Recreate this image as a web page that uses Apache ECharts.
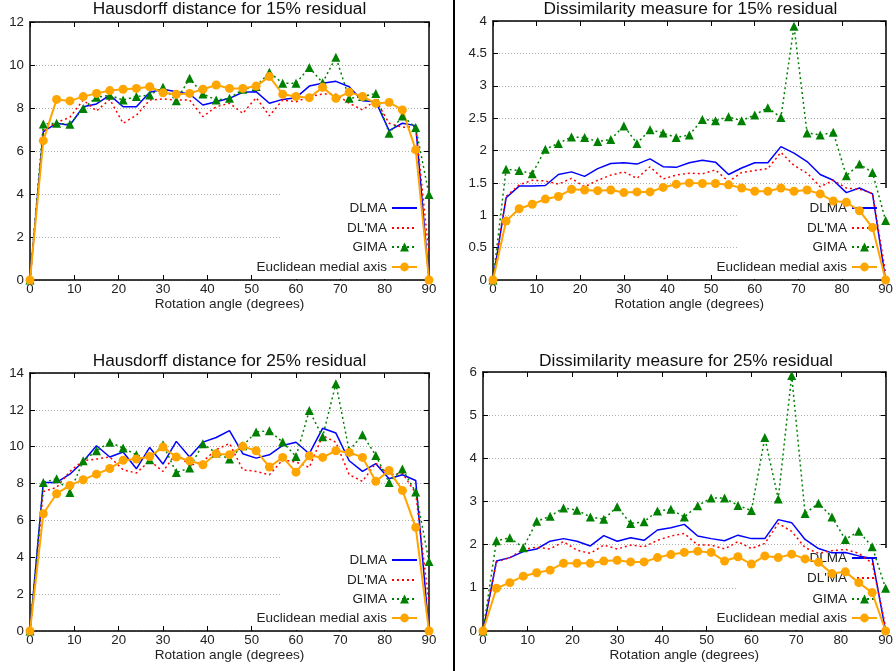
<!DOCTYPE html>
<html>
<head>
<meta charset="utf-8">
<script src="https://cdn.jsdelivr.net/npm/echarts@6/dist/echarts.min.js"></script>
<style>html,body{margin:0;padding:0;background:#fff}#c{width:896px;height:671px}</style>
</head>
<body>
<div id="c"></div>
<script>
// ---------- data ----------
const angles = [0,3,6,9,12,15,18,21,24,27,30,33,36,39,42,45,48,51,54,57,60,63,66,69,72,75,78,81,84,87,90];
const seriesNames = ["DLMA", "DL'MA", "GIMA", "Euclidean medial axis"];
const titles = ["Hausdorff distance for 15% residual", "Dissimilarity measure for 15% residual",
                "Hausdorff distance for 25% residual", "Dissimilarity measure for 25% residual"];
const xAxisName = "Rotation angle (degrees)";
const xTickLabels = ["0","10","20","30","40","50","60","70","80","90"];
const yTickLabels1 = ["0","2","4","6","8","10","12"];
const yTickLabels2 = ["0","0.5","1","1.5","2","2.5","3","4.5","4"];
const yTickLabels3 = ["0","2","4","6","8","10","12","14"];
const yTickLabels4 = ["0","1","2","3","4","5","6"];

// Hausdorff distance, 15%
const dlma15H  = [0,6.9,7.29,7.2,8.06,8.19,8.6,8.06,8.06,8.73,8.87,8.76,8.65,8.14,8.29,8.45,8.73,8.76,8.22,8.40,8.48,9.02,9.15,9.24,8.99,8.34,8.29,6.95,7.29,7.18,0];
const dlpma15H = [0,6.98,7.32,7.57,8.37,7.86,8.40,7.29,7.67,8.37,8.42,8.37,8.37,7.6,8.06,8.22,7.75,8.48,7.64,8.37,8.29,8.53,8.65,8.64,8.22,7.91,8.37,7.29,7.1,7.13,1.2];
const gima15H  = [0,7.26,7.29,7.24,7.98,8.5,8.59,8.37,8.53,8.6,8.96,8.34,9.38,8.65,8.37,8.45,8.87,9.0,9.66,9.15,9.15,9.88,9.18,10.36,8.45,8.53,8.68,6.82,7.63,7.09,3.98];
const eucl15H  = [0,6.48,8.40,8.33,8.53,8.68,8.81,8.87,8.91,8.99,8.71,8.64,8.68,8.87,9.07,8.91,8.91,9.02,9.46,8.64,8.54,8.48,8.96,8.45,8.73,8.54,8.22,8.26,7.91,6.05,0];

// Dissimilarity, 15%
const dlma15D  = [0,1.27,1.45,1.45,1.46,1.63,1.67,1.60,1.72,1.80,1.81,1.79,1.87,1.75,1.74,1.81,1.85,1.82,1.63,1.73,1.81,1.81,2.06,1.96,1.83,1.63,1.54,1.35,1.42,1.33,0];
const dlpma15D = [0,1.29,1.47,1.54,1.53,1.48,1.57,1.44,1.54,1.62,1.67,1.57,1.75,1.56,1.62,1.65,1.64,1.70,1.52,1.66,1.69,1.72,1.97,1.77,1.65,1.44,1.54,1.42,1.40,1.34,0.1];
const gima15D  = [0,1.71,1.69,1.64,2.02,2.11,2.21,2.20,2.14,2.17,2.38,2.11,2.32,2.27,2.20,2.24,2.48,2.46,2.52,2.46,2.55,2.66,2.51,3.92,2.27,2.24,2.28,1.61,1.79,1.66,0.92];
const eucl15D  = [0,0.91,1.10,1.17,1.25,1.29,1.40,1.39,1.38,1.39,1.35,1.36,1.36,1.43,1.48,1.50,1.49,1.49,1.47,1.42,1.37,1.37,1.42,1.37,1.39,1.33,1.22,1.20,1.07,0.81,0];

// Hausdorff distance, 25%
const dlma25H  = [0,8.06,8.06,8.51,9.2,10.05,9.44,9.71,8.80,9.96,9.06,10.29,9.44,10.25,10.5,10.87,9.62,9.38,9.56,10.07,10.24,9.62,11.0,10.74,9.24,8.66,9.08,8.26,8.48,8.17,0];
const dlpma25H = [0,7.57,7.79,8.66,9.24,9.33,9.44,8.75,8.57,9.24,8.66,9.66,8.97,9.2,9.84,10.18,8.75,8.66,8.48,9.29,9.17,8.88,10.6,10.24,8.48,8.12,9.11,8.48,8.57,7.48,1.5];
const gima25H  = [0,8.06,8.26,7.52,9.24,9.78,10.24,9.93,9.56,9.29,10.11,8.6,8.84,10.16,9.66,9.33,10.05,10.8,10.87,10.25,9.47,11.96,10.54,13.42,9.78,10.65,9.53,8.06,8.79,7.54,3.77];
const eucl25H  = [0,6.36,7.45,7.9,8.21,8.51,8.82,9.26,9.33,9.47,9.98,9.44,9.24,9.02,9.62,9.57,10.02,9.78,8.9,9.42,8.62,9.51,9.42,9.78,9.69,9.42,8.12,8.71,7.63,5.62,0];

// Dissimilarity, 25%
const dlma25D  = [0,1.62,1.70,1.84,1.90,2.08,2.14,2.08,1.97,2.21,2.08,2.16,2.10,2.34,2.39,2.47,2.20,2.14,2.09,2.22,2.14,2.14,2.58,2.51,2.12,1.91,1.81,1.82,1.74,1.68,0];
const dlpma25D = [0,1.60,1.70,1.89,1.94,1.90,2.07,1.87,1.80,1.99,1.90,1.99,1.95,2.10,2.20,2.26,1.99,1.99,1.90,2.07,1.91,2.03,2.49,2.31,1.93,1.80,1.86,1.89,1.80,1.57,0.1];
const gima25D  = [0,2.09,2.16,1.93,2.54,2.66,2.85,2.80,2.64,2.59,2.88,2.49,2.53,2.78,2.82,2.64,2.9,3.08,3.08,2.91,2.79,4.48,3.06,5.92,2.72,2.96,2.64,2.12,2.31,1.95,0.99];
const eucl25D  = [0,0.99,1.12,1.27,1.35,1.41,1.57,1.57,1.57,1.62,1.64,1.60,1.60,1.70,1.77,1.82,1.85,1.82,1.62,1.72,1.55,1.74,1.70,1.78,1.67,1.59,1.33,1.37,1.12,0.89,0];

// ---------- layout / style ----------
const FONT = 'Liberation Sans, Arial, sans-serif';
const panels = [
  {grid:{left:30, top:22, width:399, height:258}, y:[0,12,2], yLabels:yTickLabels1, data:[dlma15H,dlpma15H,gima15H,eucl15H],
   box:[280,188,148,91], legendRight:478, legendTops:[201,221,240,260], titleTop:1},
  {grid:{left:493, top:21, width:395, height:259}, y:[0,4,0.5], yLabels:yTickLabels2, data:[dlma15D,dlpma15D,gima15D,eucl15D],
   box:[738,188,149,91], legendRight:18, legendTops:[201,221,240,260], titleTop:1},
  {grid:{left:30, top:373, width:399, height:258}, y:[0,14,2], yLabels:yTickLabels3, data:[dlma25H,dlpma25H,gima25H,eucl25H],
   box:[280,540,148,90], legendRight:478, legendTops:[553,573,592,611], titleTop:352.5},
  {grid:{left:483, top:372, width:406, height:259}, y:[0,6,1], yLabels:yTickLabels4, data:[dlma25D,dlpma25D,gima25D,eucl25D],
   box:[738,548,150,82], legendRight:18, legendTops:[551,571,592,611], titleTop:352.5}
];
const styles = [
  {color:'#0000ff', lineStyle:{width:1.5, type:'solid'}, symbol:'none', symbolSize:0},
  {color:'#ff0000', lineStyle:{width:1.5, type:[2,3]}, symbol:'none', symbolSize:0},
  {color:'#008000', lineStyle:{width:1.5, type:[2,3]}, symbol:'triangle', symbolSize:9},
  {color:'#ffa500', lineStyle:{width:2, type:'solid'}, symbol:'circle', symbolSize:9}
];

const option = {backgroundColor:'#fff', animation:false, title:[], grid:[], xAxis:[], yAxis:[], series:[], legend:[], graphic:{elements:[]}};
const axisLine = {show:true, onZero:false, lineStyle:{color:'#000', width:1.5}};
const tick = {show:true, inside:true, length:5, lineStyle:{color:'#000', width:1}};

panels.forEach((p, i) => {
  option.grid.push(Object.assign({containLabel:false}, p.grid));
  option.title.push({text:titles[i], left:p.grid.left + p.grid.width/2, textAlign:'center', top:p.titleTop, padding:0,
    textStyle:{fontFamily:FONT, fontSize:17.3, fontWeight:'normal', color:'#111'}});
  // bottom x
  option.xAxis.push({type:'value', gridIndex:i, min:0, max:90, interval:10, position:'bottom',
    name:xAxisName, nameLocation:'middle', nameGap:14, nameTextStyle:{fontFamily:FONT, fontSize:13.6, color:'#222'},
    axisLine, axisTick:tick, splitLine:{show:false},
    axisLabel:{fontFamily:FONT, fontSize:13.3, color:'#222', margin:3, formatter:(v, idx) => xTickLabels[idx]}});
  // top x (mirror ticks)
  option.xAxis.push({type:'value', gridIndex:i, min:0, max:90, interval:10, position:'top',
    axisLine, axisTick:tick, splitLine:{show:false}, axisLabel:{show:false}});
  // left y
  option.yAxis.push({type:'value', gridIndex:i, min:p.y[0], max:p.y[1], interval:p.y[2], position:'left',
    axisLine, axisTick:tick,
    splitLine:{show:true, lineStyle:{color:'#b0b0b0', width:1, type:[1,2]}},
    axisLabel:{fontFamily:FONT, fontSize:13.3, color:'#222', margin:6, formatter:(v, idx) => p.yLabels[idx]}});
  // right y (mirror ticks)
  option.yAxis.push({type:'value', gridIndex:i, min:p.y[0], max:p.y[1], interval:p.y[2], position:'right',
    axisLine, axisTick:tick, splitLine:{show:false}, axisLabel:{show:false}});

  p.data.forEach((vals, s) => {
    const st = styles[s];
    option.series.push({type:'line', name:seriesNames[s], xAxisIndex:2*i, yAxisIndex:2*i, z:3,
      data:angles.map((a, k) => [a, vals[k]]),
      color:st.color, lineStyle:Object.assign({color:st.color}, st.lineStyle),
      itemStyle:{color:st.color}, symbol:st.symbol, symbolSize:st.symbolSize, showSymbol:st.symbol !== 'none',
      emphasis:{disabled:true}});
    const lg = {data:[seriesNames[s]], orient:'horizontal', align:'right', right:p.legendRight, top:p.legendTops[s],
      padding:0, itemWidth:25, itemHeight:11, itemGap:0, z:2, selectedMode:false,
      textStyle:{fontFamily:FONT, fontSize:13.5, color:'#222'}};
    if (st.symbol === 'none') lg.itemStyle = {opacity:0, borderWidth:0};
    option.legend.push(lg);
  });

  option.graphic.elements.push({type:'rect', z:1, silent:true,
    shape:{x:p.box[0], y:p.box[1], width:p.box[2], height:p.box[3]}, style:{fill:'#fff'}});
});
// vertical divider between the two columns
option.graphic.elements.push({type:'line', z:5, silent:true, shape:{x1:454, y1:0, x2:454, y2:671}, style:{stroke:'#000', lineWidth:2}});

const chart = echarts.init(document.getElementById('c'), null, {renderer:'canvas'});
chart.setOption(option);
</script>
</body>
</html>
